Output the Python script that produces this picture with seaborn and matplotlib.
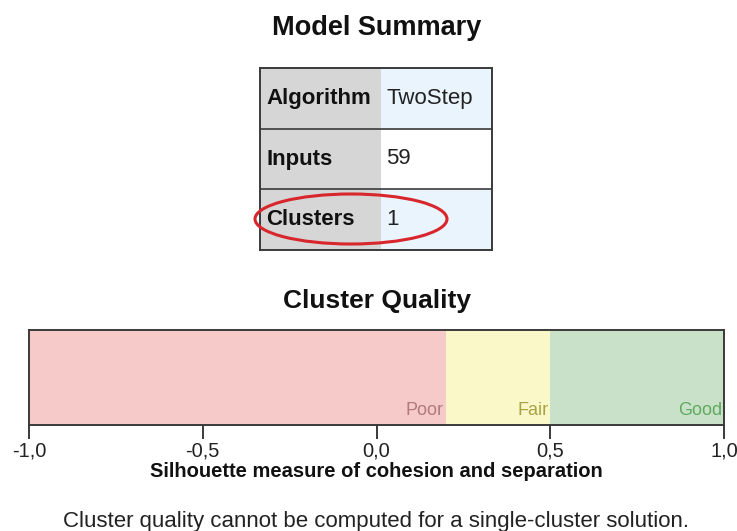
import matplotlib
matplotlib.use("Agg")
import matplotlib.pyplot as plt
import numpy as np
import pandas as pd
import seaborn as sns
from matplotlib.colors import ListedColormap
from matplotlib.patches import Ellipse

# model summary table
row_labels = ["Algorithm", "Inputs", "Clusters"]
row_values = ["TwoStep", "59", "1"]
value_shade = [1, 0, 1]   # 1 = light blue cell, 0 = white cell

# cluster quality bands
band_names = ["Poor", "Fair", "Good"]
band_start = [-1.0, 0.2, 0.5]
band_end = [0.2, 0.5, 1.0]
band_fill = ["#f7caca", "#faf7c9", "#c9e1c9"]
band_text = ["#b07a7a", "#a9a345", "#5faa5f"]
ticks = [-1.0, -0.5, 0.0, 0.5, 1.0]

sns.set_theme(style="white")
plt.rcParams["font.family"] = ["Liberation Sans", "DejaVu Sans"]

W, H = 737, 531
fig = plt.figure(figsize=(W / 100, H / 100), dpi=100)

def fbox(x0, y0, x1, y1):
    return [x0 / W, 1 - y1 / H, (x1 - x0) / W, (y1 - y0) / H]

fig.text(377 / W, 1 - 28 / H, "Model Summary", ha="center", va="center",
         fontsize=19.5, fontweight="bold", color="#111111")

# label column
ax_l = fig.add_axes(fbox(260, 68, 381, 250))
sns.heatmap(pd.DataFrame({"c": [0, 0, 0]}), ax=ax_l, cmap=ListedColormap(["#d6d6d6"]),
            cbar=False, xticklabels=False, yticklabels=False)
for i, lab in enumerate(row_labels):
    ax_l.text(0.05, i + 0.5, lab, ha="left", va="center", fontsize=16,
              fontweight="bold", color="#111111")

# value column
ax_v = fig.add_axes(fbox(381, 68, 492, 250))
sns.heatmap(pd.DataFrame({"c": value_shade}), ax=ax_v,
            cmap=ListedColormap(["#ffffff", "#eaf4fd"]), vmin=0, vmax=1,
            cbar=False, xticklabels=False, yticklabels=False)
for i, val in enumerate(row_values):
    ax_v.text(0.05, i + 0.5, val, ha="left", va="center", fontsize=16, color="#222222")

for ax in (ax_l, ax_v):
    for y in (1, 2):
        ax.axhline(y, color="#3a3a3a", lw=1.2)
    ax.set_xlabel("")
    ax.set_ylabel("")

# outer table frame
ax_f = fig.add_axes(fbox(260, 68, 492, 250), facecolor="none")
ax_f.set_xticks([])
ax_f.set_yticks([])
for s in ax_f.spines.values():
    s.set_visible(True)
    s.set_color("#3a3a3a")
    s.set_linewidth(1.4)

# red ellipse around the Clusters row
ax_e = fig.add_axes([0, 0, 1, 1], facecolor="none")
ax_e.set_xlim(0, W)
ax_e.set_ylim(H, 0)
ax_e.axis("off")
ax_e.add_patch(Ellipse((351, 219), 192, 50, fill=False, edgecolor="#d8262c", lw=2.2))

fig.text(377 / W, 1 - 301 / H, "Cluster Quality", ha="center", va="center",
         fontsize=19, fontweight="bold", color="#111111")

# quality bar
ax_q = fig.add_axes(fbox(29, 330, 724, 425))
for s0, s1, fc, nm, tc in zip(band_start, band_end, band_fill, band_names, band_text):
    ax_q.barh(0, s1 - s0, left=s0, height=1, color=fc, edgecolor="none")
    ax_q.text(s1 - 0.006, -0.35, nm, ha="right", va="center", fontsize=13, color=tc)
ax_q.set_xlim(-1, 1)
ax_q.set_ylim(-0.5, 0.5)
ax_q.set_yticks([])
ax_q.set_xticks(ticks)
ax_q.set_xticklabels([f"{t:.1f}".replace(".", ",") for t in ticks], fontsize=14.5,
                     color="#222222")
ax_q.tick_params(axis="x", bottom=True, length=10, width=1.4, color="#3a3a3a", pad=2)
for s in ax_q.spines.values():
    s.set_visible(True)
    s.set_color("#3a3a3a")
    s.set_linewidth(1.4)
ax_q.set_xlabel("Silhouette measure of cohesion and separation", fontsize=14.5,
                fontweight="bold", color="#111111", labelpad=1)

fig.text(376 / W, 1 - 521 / H,
         "Cluster quality cannot be computed for a single-cluster solution.",
         ha="center", va="center", fontsize=16, color="#222222")

fig.savefig("out.png", dpi=100)
